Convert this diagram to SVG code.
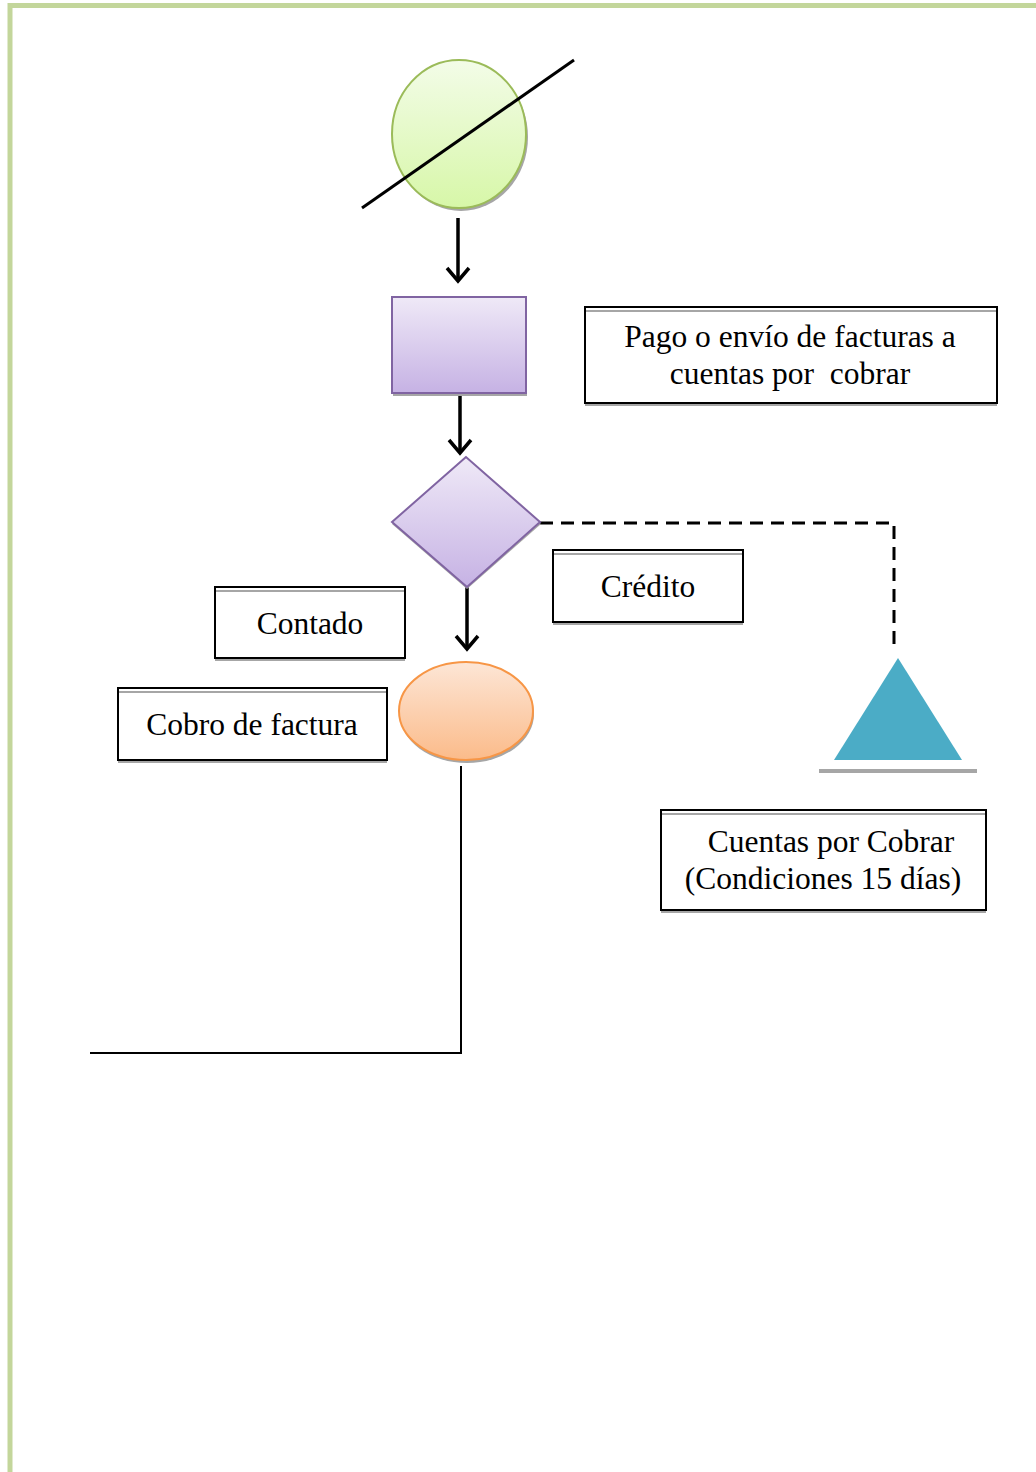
<svg xmlns="http://www.w3.org/2000/svg" width="1036" height="1472" viewBox="0 0 1036 1472">
<defs>
<linearGradient id="gGreen" x1="0" y1="0" x2="0" y2="1"><stop offset="0" stop-color="#f3fce8"/><stop offset="1" stop-color="#d7f7a8"/></linearGradient>
<linearGradient id="gPurple" x1="0" y1="0" x2="0" y2="1"><stop offset="0" stop-color="#efe9f7"/><stop offset="1" stop-color="#c6b2e4"/></linearGradient>
<linearGradient id="gOrange" x1="0" y1="0" x2="0" y2="1"><stop offset="0" stop-color="#fde6d6"/><stop offset="1" stop-color="#fbbb8a"/></linearGradient>
<marker id="arr" markerWidth="24" markerHeight="26" refX="15" refY="13" orient="auto" markerUnits="userSpaceOnUse" viewBox="0 0 24 26"><path d="M2,2 L15,13 L2,24" fill="none" stroke="#000" stroke-width="3.5"/></marker>
</defs>
<style>
.box{fill:#fff;stroke:#000;stroke-width:2}
.gl{stroke:#a6a6a6;stroke-width:2}
.t{font-family:"Liberation Serif","Times New Roman",serif;font-size:31.5px;fill:#000;text-anchor:middle}
.conn{fill:none;stroke:#000}
</style>
<rect x="0" y="0" width="1036" height="1472" fill="#fff"/>
<path d="M10,1472 V5.5 H1036" fill="none" stroke="#c3d69b" stroke-width="5"/>

<g id="connectors">
<line class="conn" x1="458" y1="218" x2="458" y2="281" stroke-width="3.5" marker-end="url(#arr)"/>
<line class="conn" x1="460" y1="391" x2="460" y2="453" stroke-width="3.5" marker-end="url(#arr)"/>
<line class="conn" x1="467" y1="587" x2="467" y2="649" stroke-width="3.5" marker-end="url(#arr)"/>
<path class="conn" d="M540,523 H894 V650" stroke-width="3" stroke-dasharray="13,8"/>
<path class="conn" d="M461,766 V1053 H90" stroke-width="2"/>
</g>

<g id="start">
<ellipse cx="461" cy="137" rx="67" ry="74" fill="#a6a6a6"/>
<ellipse cx="459" cy="134" rx="67" ry="74" fill="url(#gGreen)" stroke="#9bbb59" stroke-width="2"/>
<line x1="362" y1="208" x2="574" y2="60" stroke="#000" stroke-width="3"/>
</g>

<g id="process">
<rect x="393" y="299" width="134" height="97" fill="#a6a6a6"/>
<rect x="392" y="297" width="134" height="96" fill="url(#gPurple)" stroke="#8064a2" stroke-width="2"/>
</g>

<g id="decision">
<polygon points="466,459 392,524 467,589 541,524" fill="#a6a6a6"/>
<polygon points="466,457 392,522 467,587 540,522" fill="url(#gPurple)" stroke="#8064a2" stroke-width="2"/>
</g>

<g id="cobro-ellipse">
<ellipse cx="467" cy="714" rx="67" ry="49" fill="#a6a6a6"/>
<ellipse cx="466" cy="711" rx="67" ry="49" fill="url(#gOrange)" stroke="#f79646" stroke-width="2"/>
</g>

<g id="cxc-triangle">
<polygon points="898,658 834,760 962,760" fill="#4bacc6"/>
<line x1="819" y1="771" x2="977" y2="771" stroke="#a6a6a6" stroke-width="4"/>
</g>

<g id="label-pago">
<rect class="box" x="585" y="307" width="412" height="96"/>
<line class="gl" x1="586" y1="311" x2="996" y2="311"/>
<line class="gl" x1="585" y1="405" x2="997" y2="405"/>
<text class="t" x="790" y="347">Pago o envío de facturas a</text>
<text class="t" x="790" y="384" xml:space="preserve">cuentas por  cobrar</text>
</g>

<g id="label-credito">
<rect class="box" x="553" y="550" width="190" height="72"/>
<line class="gl" x1="554" y1="554" x2="742" y2="554"/>
<line class="gl" x1="553" y1="624" x2="743" y2="624"/>
<text class="t" x="648" y="597">Crédito</text>
</g>

<g id="label-contado">
<rect class="box" x="215" y="587" width="190" height="71"/>
<line class="gl" x1="216" y1="591" x2="404" y2="591"/>
<line class="gl" x1="215" y1="660" x2="405" y2="660"/>
<text class="t" x="310" y="634">Contado</text>
</g>

<g id="label-cobro">
<rect class="box" x="118" y="688" width="269" height="72"/>
<line class="gl" x1="119" y1="692" x2="386" y2="692"/>
<line class="gl" x1="118" y1="762" x2="387" y2="762"/>
<text class="t" x="252" y="735">Cobro de factura</text>
</g>

<g id="label-cxc">
<rect class="box" x="661" y="810" width="325" height="100"/>
<line class="gl" x1="662" y1="814" x2="985" y2="814"/>
<line class="gl" x1="661" y1="912" x2="986" y2="912"/>
<text class="t" x="831" y="852">Cuentas por Cobrar</text>
<text class="t" x="823" y="889">(Condiciones 15 días)</text>
</g>
</svg>
